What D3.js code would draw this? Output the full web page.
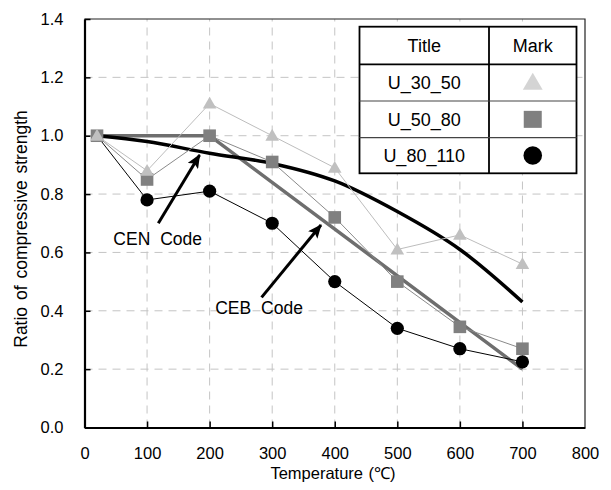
<!DOCTYPE html>
<html>
<head>
<meta charset="utf-8">
<script src="https://cdn.jsdelivr.net/npm/d3@7"></script>
<style>
  body { margin: 0; background: #fff; }
  text { font-family: Arial, "Liberation Sans", sans-serif; fill: #000; }
</style>
</head>
<body>
<script>
// temperatures (C) and strength ratios
var temps = [20, 100, 200, 300, 400, 500, 600, 700];
var u30_50 = [1.0, 0.88, 1.11, 1.0, 0.89, 0.61, 0.66, 0.56];
var u50_80 = [1.0, 0.85, 1.0, 0.91, 0.72, 0.50, 0.345, 0.27];
var u80_110 = [1.0, 0.78, 0.81, 0.70, 0.50, 0.34, 0.27, 0.225];
var cenTemps = [20, 100, 200, 300, 400, 500, 600, 700];
var cenCode = [1.0, 0.98, 0.94, 0.905, 0.845, 0.74, 0.61, 0.43];
var cebTemps = [20, 200, 700];
var cebCode = [1.0, 1.0, 0.2];
var xTicks = [0, 100, 200, 300, 400, 500, 600, 700, 800];
var yTicks = [0, 0.2, 0.4, 0.6, 0.8, 1.0, 1.2, 1.4];
var legendNames = ["U_30_50", "U_50_80", "U_80_110"];

var Chart = (function() {

  var width = 611;
  var height = 490;

  var zip = function(xs, ys) {
    return xs.map(function(x, i) { return { x: x, y: ys[i] }; });
  };

  var init = function() {
    var svg = d3.select("body").append("svg")
      .attr("width", width)
      .attr("height", height);

    svg.append("rect").attr("width", width).attr("height", height).attr("fill", "#fff");

    var x = d3.scaleLinear().domain([0, 800]).range([84.5, 585]);
    var y = d3.scaleLinear().domain([0, 1.4]).range([427.5, 19]);

    // dashed grid
    svg.append("g").selectAll("line")
      .data(xTicks.slice(1, -1))
      .enter().append("line")
      .attr("x1", function(d) { return x(d); })
      .attr("x2", function(d) { return x(d); })
      .attr("y1", y(0)).attr("y2", y(1.4))
      .attr("stroke", "#c4c4c4").attr("stroke-width", 1)
      .attr("stroke-dasharray", "8,6");
    svg.append("g").selectAll("line")
      .data(yTicks.slice(1, -1))
      .enter().append("line")
      .attr("y1", function(d) { return y(d); })
      .attr("y2", function(d) { return y(d); })
      .attr("x1", x(0)).attr("x2", x(800))
      .attr("stroke", "#c4c4c4").attr("stroke-width", 1)
      .attr("stroke-dasharray", "8,6");

    // frame top/right
    svg.append("path")
      .attr("d", "M" + x(0) + "," + y(1.4) + "H" + x(800) + "V" + y(0))
      .attr("fill", "none").attr("stroke", "#222").attr("stroke-width", 1.2);

    // axes
    var xAxis = svg.append("g")
      .attr("transform", "translate(0," + y(0) + ")")
      .call(d3.axisBottom(x).tickValues(xTicks).tickSizeInner(-6).tickSizeOuter(0).tickPadding(20));
    var yAxis = svg.append("g")
      .attr("transform", "translate(" + x(0) + ",0)")
      .call(d3.axisLeft(y).tickValues(yTicks).tickFormat(d3.format(".1f")).tickSizeInner(-6).tickSizeOuter(0).tickPadding(21));
    [xAxis, yAxis].forEach(function(a) {
      a.select(".domain").attr("stroke", "#000").attr("stroke-width", 2.2);
      a.selectAll(".tick line").attr("stroke", "#000").attr("stroke-width", 1.5);
      a.selectAll(".tick text").attr("font-size", "16.5px").attr("fill", "#000")
        .attr("font-family", "Arial, 'Liberation Sans', sans-serif");
    });
    xAxis.selectAll(".tick").filter(function(d) { return d === 0 || d === 800; }).select("line").remove();

    // axis titles
    svg.append("text")
      .attr("x", 333).attr("y", 478.5)
      .attr("text-anchor", "middle").attr("font-size", "16.5px")
      .attr("word-spacing", "1px")
      .text("Temperature (℃)");
    svg.append("text")
      .attr("transform", "translate(27,229) rotate(-90)")
      .attr("text-anchor", "middle").attr("font-size", "17.5px")
      .attr("word-spacing", "2px")
      .text("Ratio of compressive strength");

    var line = d3.line()
      .x(function(d) { return x(d.x); })
      .y(function(d) { return y(d.y); });

    // code lines
    svg.append("path")
      .datum(zip(cebTemps, cebCode))
      .attr("d", line)
      .attr("fill", "none").attr("stroke", "#6e6e6e").attr("stroke-width", 3.5);
    svg.append("path")
      .datum(zip(cenTemps, cenCode))
      .attr("d", line.curve(d3.curveCatmullRom.alpha(0.5)))
      .attr("fill", "none").attr("stroke", "#000").attr("stroke-width", 3.5);
    line.curve(d3.curveLinear);

    // test series lines
    var series = [
      { vals: u80_110, color: "#000" },
      { vals: u50_80, color: "#8a8a8a" },
      { vals: u30_50, color: "#bdbdbd" }
    ];
    series.forEach(function(s) {
      svg.append("path")
        .datum(zip(temps, s.vals))
        .attr("d", line)
        .attr("fill", "none").attr("stroke", s.color).attr("stroke-width", 1);
    });

    // markers
    svg.append("g").selectAll("circle")
      .data(zip(temps, u80_110).slice(1))
      .enter().append("circle")
      .attr("cx", function(d) { return x(d.x); })
      .attr("cy", function(d) { return y(d.y); })
      .attr("r", 6.6).attr("fill", "#000");
    svg.append("g").selectAll("rect")
      .data(zip(temps, u50_80))
      .enter().append("rect")
      .attr("x", function(d) { return x(d.x) - 6.3; })
      .attr("y", function(d) { return y(d.y) - 6.3; })
      .attr("width", 12.6).attr("height", 12.6)
      .attr("fill", "#808080");
    var tri = d3.symbol().type(d3.symbolTriangle).size(80);
    svg.append("g").selectAll("path")
      .data(zip(temps, u30_50))
      .enter().append("path")
      .attr("d", tri)
      .attr("transform", function(d) { return "translate(" + x(d.x) + "," + (y(d.y) + 1) + ")"; })
      .attr("fill", "#c0c0c0");

    // annotations
    svg.append("defs").append("marker")
      .attr("id", "arrow")
      .attr("markerUnits", "userSpaceOnUse")
      .attr("markerWidth", 14).attr("markerHeight", 12)
      .attr("refX", 13).attr("refY", 6)
      .attr("orient", "auto")
      .append("path")
      .attr("d", "M0,0L14,6L0,12L3,6Z")
      .attr("fill", "#000");

    var notes = [
      { label: "CEN Code", tx: 117, ty: 0.625, x1: 118, y1: 0.70, x2: 184, y2: 0.934 },
      { label: "CEB Code", tx: 279, ty: 0.388, x1: 283, y1: 0.446, x2: 378, y2: 0.694 }
    ];
    notes.forEach(function(n) {
      svg.append("line")
        .attr("x1", x(n.x1)).attr("y1", y(n.y1))
        .attr("x2", x(n.x2)).attr("y2", y(n.y2))
        .attr("stroke", "#000").attr("stroke-width", 3)
        .attr("marker-end", "url(#arrow)");
      svg.append("text")
        .attr("x", x(n.tx)).attr("y", y(n.ty))
        .attr("text-anchor", "middle").attr("font-size", "17.5px")
        .attr("word-spacing", "5px")
        .text(n.label);
    });

    // legend table
    var lx = 359.5, lx2 = 489, lx3 = 576.5;
    var rows = [26.7, 64.3, 101, 137.7, 173.3];
    var lg = svg.append("g");
    lg.append("rect")
      .attr("x", lx).attr("y", rows[0])
      .attr("width", lx3 - lx).attr("height", rows[4] - rows[0])
      .attr("fill", "#fff").attr("stroke", "#000").attr("stroke-width", 1.8);
    lg.append("line").attr("x1", lx2).attr("x2", lx2).attr("y1", rows[0]).attr("y2", rows[4])
      .attr("stroke", "#000").attr("stroke-width", 1.8);
    lg.append("line").attr("x1", lx).attr("x2", lx3).attr("y1", rows[1]).attr("y2", rows[1])
      .attr("stroke", "#000").attr("stroke-width", 1.8);
    [rows[2], rows[3]].forEach(function(r) {
      lg.append("line").attr("x1", lx).attr("x2", lx3).attr("y1", r).attr("y2", r)
        .attr("stroke", "#444").attr("stroke-width", 1.2);
    });
    var cx1 = (lx + lx2) / 2, cx2 = (lx2 + lx3) / 2;
    var mid = function(i) { return (rows[i] + rows[i + 1]) / 2; };
    lg.append("text").attr("x", cx1).attr("y", mid(0) + 6.5).attr("text-anchor", "middle")
      .attr("font-size", "18px").text("Title");
    lg.append("text").attr("x", cx2).attr("y", mid(0) + 6.5).attr("text-anchor", "middle")
      .attr("font-size", "18px").text("Mark");
    legendNames.forEach(function(name, i) {
      lg.append("text").attr("x", cx1).attr("y", mid(i + 1) + 6.5).attr("text-anchor", "middle")
        .attr("font-size", "18px").text(name);
    });
    lg.append("path")
      .attr("d", d3.symbol().type(d3.symbolTriangle).size(170))
      .attr("transform", "translate(" + cx2 + "," + (mid(1) + 1.5) + ")")
      .attr("fill", "#d4d4d4");
    lg.append("rect")
      .attr("x", cx2 - 9).attr("y", mid(2) - 8.5)
      .attr("width", 18).attr("height", 17).attr("fill", "#808080");
    lg.append("circle")
      .attr("cx", cx2).attr("cy", mid(3)).attr("r", 9.3).attr("fill", "#000");
  };

  return { init: init };
})();

Chart.init();
</script>
</body>
</html>
